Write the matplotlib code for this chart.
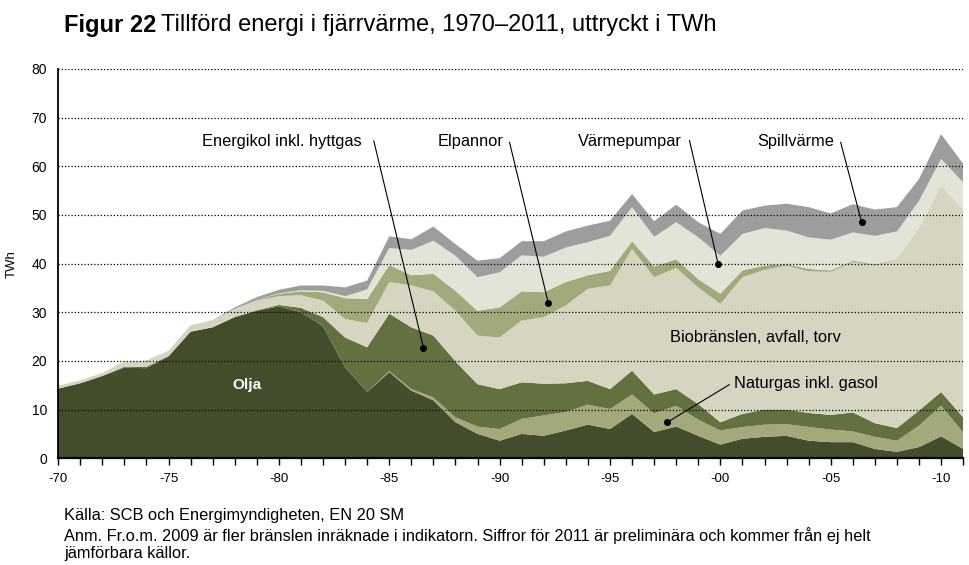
import matplotlib
matplotlib.use("Agg")
import matplotlib.pyplot as plt
from matplotlib import font_manager
import numpy as np

# Tillförd energi i fjärrvärme, TWh per år (1970-2011)
years = np.arange(1970, 2012)

olja = [14.3, 15.4, 16.9, 18.6, 18.5, 20.9, 26.0, 26.9, 29.0, 30.3,
        31.2, 30.0, 27.1, 18.7, 13.6, 17.7, 13.9, 11.9, 7.4, 5.0,
        3.6, 5.0, 4.6, 5.7, 6.9, 6.0, 9.1, 5.4, 6.5, 4.6,
        2.8, 4.0, 4.4, 4.6, 3.6, 3.3, 3.3, 1.9, 1.3, 2.3,
        4.5, 1.9]
naturgas = [0, 0, 0, 0, 0, 0, 0, 0, 0, 0,
            0, 0, 0, 0, 0, 0.2, 0.3, 0.6, 1.0, 1.5,
            2.4, 3.1, 4.2, 3.8, 4.1, 4.1, 4.0, 3.8, 4.3, 3.3,
            2.9, 2.4, 2.5, 2.4, 2.8, 2.6, 2.2, 2.5, 2.3, 4.4,
            6.3, 3.4]
energikol = [0, 0, 0, 0.2, 0.3, 0.1, 0, 0, 0, 0.1,
             0.3, 0.9, 1.9, 6.1, 9.2, 11.8, 12.7, 12.7, 11.5, 8.7,
             8.2, 7.5, 6.5, 5.9, 4.9, 4.1, 4.9, 3.9, 3.4, 3.2,
             1.7, 2.7, 3.1, 3.0, 2.9, 3.0, 3.9, 2.8, 2.6, 3.1,
             2.8, 3.1]
bio = [0.6, 0.6, 0.6, 1.1, 1.3, 1.1, 1.3, 1.5, 1.7, 2.0,
       1.8, 2.6, 3.4, 3.8, 5.0, 6.5, 8.6, 9.1, 10.4, 10.0,
       10.6, 12.7, 13.7, 16.0, 18.9, 21.3, 25.0, 24.1, 24.9, 24.0,
       24.3, 28.1, 28.7, 29.6, 29.1, 29.4, 30.9, 32.4, 34.6, 37.6,
       42.4, 42.8]
elpannor = [0, 0, 0, 0, 0, 0, 0, 0, 0, 0.2,
            0.5, 0.8, 1.7, 4.3, 4.9, 3.5, 2.1, 3.6, 4.1, 5.1,
            6.2, 6.0, 5.1, 4.8, 2.8, 3.0, 1.6, 2.2, 1.8, 1.7,
            2.1, 1.4, 0.9, 0.3, 0.5, 0.3, 0.3, 0.2, 0.1, 0,
            0, 0]
varmepumpar = [0, 0, 0, 0, 0, 0, 0, 0, 0, 0,
               0.1, 0.2, 0.3, 0.4, 2.0, 3.5, 5.2, 6.8, 7.2, 6.9,
               7.2, 7.4, 7.3, 7.1, 6.8, 7.2, 7.0, 6.1, 7.6, 8.6,
               7.8, 7.5, 7.7, 6.9, 6.5, 6.3, 5.8, 5.9, 5.7, 5.5,
               5.5, 5.5]
spillvarme = [0, 0, 0, 0, 0, 0, 0, 0, 0.3, 0.5,
              0.7, 1.0, 1.1, 1.8, 1.8, 2.4, 2.2, 2.9, 2.4, 3.4,
              2.9, 2.9, 3.2, 3.3, 3.4, 3.1, 2.7, 3.2, 3.6, 3.1,
              4.5, 4.8, 4.6, 5.5, 6.2, 5.4, 5.8, 5.4, 5.0, 4.5,
              5.1, 3.8]

colors = ["#434d2c", "#a3a97a", "#63703f", "#d5d5c1", "#a3a97a", "#e3e3d7", "#9d9d9d"]

names = set(f.name for f in font_manager.fontManager.ttflist)
narrow = "Liberation Sans Narrow" if "Liberation Sans Narrow" in names else "Liberation Sans"
plt.rcParams["font.family"] = "Liberation Sans"

fig = plt.figure(figsize=(9.69, 5.65), dpi=100)
ax = fig.add_axes([0.060, 0.189, 0.934, 0.689])

ax.stackplot(years, olja, naturgas, energikol, bio, elpannor, varmepumpar, spillvarme,
             colors=colors, linewidth=0)

ax.set_xlim(1970, 2011)
ax.set_ylim(0, 80)
ax.set_yticks(np.arange(0, 81, 10))
for v in range(10, 81, 10):
    ax.axhline(v, color="black", lw=0.9, linestyle=(0, (1, 1.6)), zorder=3)

ax.set_xticks(years)
ax.set_xticklabels([("-%02d" % (y % 100)) if y % 5 == 0 else "" for y in years])
ax.tick_params(axis="x", length=5, width=1, color="black", labelsize=9.5, pad=6)
ax.tick_params(axis="y", length=0, labelsize=10, pad=8)
for s in ["top", "right"]:
    ax.spines[s].set_visible(False)
ax.spines["left"].set_linewidth(1.3)
ax.spines["bottom"].set_linewidth(1.6)
ax.spines["left"].set_zorder(5)
ax.spines["bottom"].set_zorder(5)
ax.set_ylabel("TWh", fontsize=9.5, labelpad=10)

# etiketter
fs = 11.8
ax.text(1978.55, 15.1, "Olja", color="white", fontsize=11, fontweight="bold", ha="center", va="center", zorder=6)
ax.text(2001.6, 24.8, "Biobränslen, avfall, torv", fontsize=fs, ha="center", va="center", zorder=6)
ax.text(2000.6, 15.3, "Naturgas inkl. gasol", fontsize=fs, ha="left", va="center", zorder=6)
ax.text(1980.15, 65.0, "Energikol inkl. hyttgas", fontsize=fs, ha="center", va="center", zorder=6)
ax.text(1988.7, 65.0, "Elpannor", fontsize=fs, ha="center", va="center", zorder=6)
ax.text(1995.9, 65.0, "Värmepumpar", fontsize=fs, ha="center", va="center", zorder=6)
ax.text(2003.4, 65.0, "Spillvärme", fontsize=fs, ha="center", va="center", zorder=6)

pointers = [((1984.3, 65.2), (1986.55, 22.7)),
            ((1990.45, 64.9), (1992.2, 32.0)),
            ((1998.6, 65.3), (1999.9, 39.9)),
            ((2005.45, 64.9), (2006.4, 48.5)),
            ((2000.4, 15.1), (1997.6, 7.4))]
for (x0, y0), (x1, y1) in pointers:
    ax.plot([x0, x1], [y0, y1], color="black", lw=0.8, zorder=6)
    ax.plot(x1, y1, "o", color="black", ms=4, zorder=6)

t1 = fig.text(0.066, 0.955, "Figur 22", fontsize=17, fontweight="bold", family=narrow, va="center")
fig.canvas.draw()
bb = t1.get_window_extent()
fig.text(bb.x1 / fig.bbox.width + 0.005, 0.955, "Tillförd energi i fjärrvärme, 1970–2011, uttryckt i TWh",
         fontsize=17, family=narrow, va="center")

foot = 11.8
fig.text(0.066, 0.088, "Källa: SCB och Energimyndigheten, EN 20 SM", fontsize=foot, family=narrow, va="center")
fig.text(0.066, 0.053, "Anm. Fr.o.m. 2009 är fler bränslen inräknade i indikatorn. Siffror för 2011 är preliminära och kommer från ej helt",
         fontsize=foot, family=narrow, va="center")
fig.text(0.066, 0.020, "jämförbara källor.", fontsize=foot, family=narrow, va="center")

fig.savefig("out.png", dpi=100)
